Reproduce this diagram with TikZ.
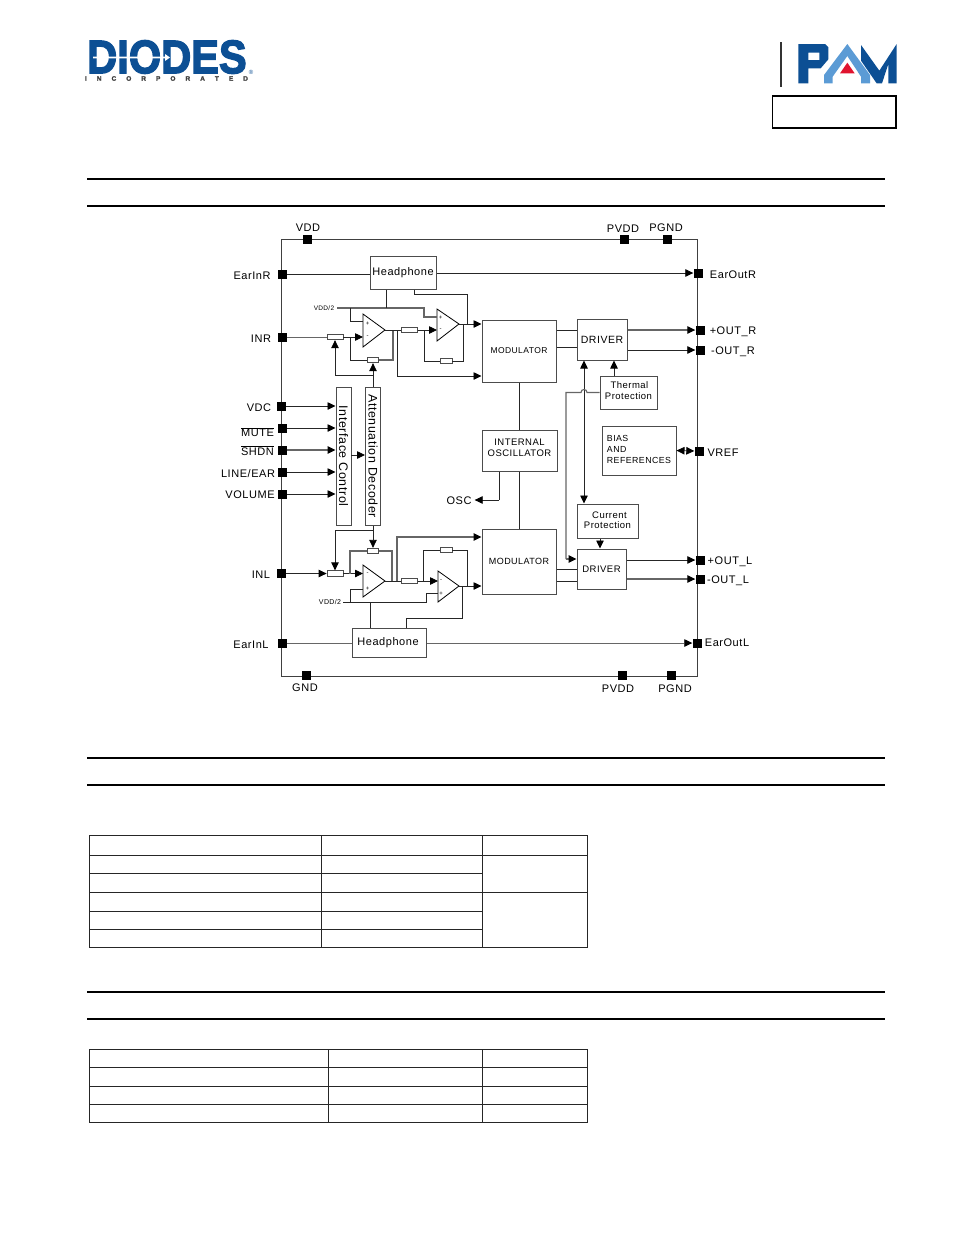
\documentclass[tikz,border=0pt]{standalone}
\usepackage{graphicx}
\usepackage{fontspec}
\setmainfont[LetterSpace=5]{Liberation Sans}
\newfontfamily\logofont[FakeBold=3]{Liberation Sans Bold}
\newfontfamily\logosmall[FakeBold=1.5]{Liberation Sans Bold}
\usetikzlibrary{arrows.meta}
\definecolor{diodesblue}{HTML}{0C4F94}
\definecolor{pamblue}{HTML}{5B9BD5}
\definecolor{pamred}{HTML}{E0142F}
\newcommand{\fs}[1]{\fontsize{#1}{#1}\selectfont}
\tikzset{
  x=1pt,y=-1pt,
  >={Triangle[length=8pt,width=7.5pt,color=black]},
  wire/.style={draw=black!85,line width=.8pt},
  wireg/.style={draw=black!60,line width=1.1pt},
  wirethin/.style={draw=black!60,line width=.7pt},
  arr/.style={wire,->},
  arrg/.style={wireg,->},
  arrthin/.style={wirethin,->},
  dblarr/.style={wire,<->},
  frame/.style={draw=black!75,line width=1pt},
  blk/.style={draw=black!70,line width=1pt,fill=white,inner sep=0pt,align=center},
  res/.style={draw=black!70,line width=.8pt,fill=white,inner sep=0pt,minimum height=5.5pt},
  pinsq/.style={fill=black,inner sep=0pt,minimum size=9pt},
  lbl/.style={inner sep=0pt,yshift=-.7pt,font=\fs{11}},
  sgn/.style={inner sep=0pt,font=\fs{6}},
  hdr/.style={draw=black,line width=1.2pt},
  tab/.style={draw=black!85,line width=.7pt},
  amp/.style={draw=black,line width=.8pt,fill=white}
}
\begin{document}
\begin{tikzpicture}
\useasboundingbox (0,0) rectangle (954,1235);
% logos
\node[inner sep=0pt,text=diodesblue] (logoD) at (167,57) {\scalebox{.885}[1]{\logofont\fontsize{47}{47}\selectfont DIODES}};
\fill[white] (93,56.6) -- (165,56.6) -- (165,54) -- (170,57.5) -- (165,61) -- (165,58.4) -- (93,58.4) -- cycle;
\node[inner sep=0pt,text=black!75] (logoI) at (166.5,78.5) {\makebox[163pt][s]{\logosmall\fontsize{6.5}{6.5}\selectfont I\hfill N\hfill C\hfill O\hfill R\hfill P\hfill O\hfill R\hfill A\hfill T\hfill E\hfill D}};
\node[inner sep=0pt,text=diodesblue] (logoR) at (251,72) {\fontsize{6}{6}\selectfont\textregistered};
\begin{scope}[shift={(760,30)},x=1/3*1pt,y=-1/3*1pt]
\fill[diodesblue,even odd rule] (115,42) -- (195,42) -- (205,52) -- (205,88) -- (182,115) -- (145,115) -- (145,160) -- (115,160) -- cycle
  (145,68) -- (178,68) -- (178,90) -- (145,90) -- cycle;
\fill[diodesblue] (303,45) -- (358,122) -- (410,42) -- (410,160) -- (385,160) -- (385,102) -- (366,160) -- (350,160) -- (303,92) -- cycle;
\fill[pamblue] (262,42) -- (330,135) -- (330,160) -- (303,160) -- (303,140) -- (262,78) -- (218,140) -- (218,160) -- (192,160) -- (192,135) -- cycle;
\fill[pamred] (240,130) -- (262,98) -- (284,130) -- cycle;
\end{scope}
\draw[line width=1.2pt,draw=black!80] (781,42) -- (781,87);
\draw[line width=1.2pt] (772.5,96) rectangle (896,128);
% section rules
\foreach \y in {179,206,758,785,992} \draw[hdr] (87,\y) -- (885,\y);
\draw[hdr,line width=2pt] (87,1019) -- (885,1019);
% block diagram
\draw[frame] (281,239) rectangle (697,676);
\foreach \nm/\x/\y in {pVDD/307/239,pPVDDt/624/239,pPGNDt/667/239,pEarInR/282/274,pINR/282/337,pVDC/281/406,pMUTE/282/428,pSHDN/282/450,pLINE/282/472,pVOL/282/494,pINL/281/573.5,pEarInL/282/643,pGND/306/675,pPVDDb/622/675,pPGNDb/671/675,pEarOutR/698/273,pOutRp/700/330,pOutRn/700/350,pVREF/699/451,pOutLp/700/560,pOutLn/700/579,pEarOutL/697/643}
  \node[pinsq] (\nm) at (\x,\y) {};
\node[lbl] (lVDD) at (308,227) {VDD};
\node[lbl] (lPVDDt) at (623,228) {PVDD};
\node[lbl] (lPGNDt) at (666,227) {PGND};
\node[lbl] (lEarInR) at (252,275) {EarInR};
\node[lbl] (lINR) at (261,338) {INR};
\node[lbl] (lVDC) at (259,407) {VDC};
\node[lbl] (lMUTE) at (257.5,431.5) {$\overline{\mbox{MUTE}}$};
\node[lbl] (lSHDN) at (257.5,450) {$\overline{\mbox{SHDN}}$};
\node[lbl] (lLINE) at (248,473) {LINE/EAR};
\node[lbl] (lVOL) at (250,494) {VOLUME};
\node[lbl] (lINL) at (261,574) {INL};
\node[lbl] (lEarInL) at (251,644) {EarInL};
\node[lbl] (lGND) at (305,687) {GND};
\node[lbl] (lPVDDb) at (618,688) {PVDD};
\node[lbl] (lPGNDb) at (675,688) {PGND};
\node[lbl] (lEarOutR) at (733,274) {EarOutR};
\node[lbl] (lOutRp) at (733,331) {+OUT\_R};
\node[lbl] (lOutRn) at (733,351) {-OUT\_R};
\node[lbl] (lVREF) at (723,452) {VREF};
\node[lbl] (lOutLp) at (730,561) {+OUT\_L};
\node[lbl] (lOutLn) at (728,580) {-OUT\_L};
\node[lbl] (lEarOutL) at (727,642) {EarOutL};
\node[lbl] (lOSC) at (459,500) {OSC};
\node[inner sep=0pt,font=\fs{6.5}] (lVDDt) at (324,308) {VDD/2};
\node[inner sep=0pt,font=\fs{7}] (lVDDb) at (330,602) {VDD/2};
% blocks
\node[blk,minimum width=66pt,minimum height=33pt,font=\fs{11}] (hpR) at (403,272.5) {\raisebox{-1pt}{Headphone}};
\node[blk,minimum width=74pt,minimum height=29pt,font=\fs{11}] (hpL) at (389,642.5) {\raisebox{-1pt}{Headphone\hspace{2pt}}};
\node[blk,minimum width=74pt,minimum height=62pt,font=\fs{8.5}] (modT) at (519,351) {\raisebox{-1.5pt}{MODULATOR}};
\node[blk,minimum width=74pt,minimum height=65pt,font=\fs{9}] (modB) at (519,561.5) {\raisebox{-.7pt}{MODULATOR}};
\node[blk,minimum width=50pt,minimum height=41pt,font=\fs{10.5}] (drvT) at (602,339.5) {DRIVER};
\node[blk,minimum width=49pt,minimum height=40pt,font=\fs{9.5}] (drvB) at (601.5,569) {\raisebox{-1pt}{DRIVER}};
\node[blk,minimum width=57pt,minimum height=33pt,font=\fs{9.5}] (therm) at (628.5,392.5) {\hspace{2pt}Thermal\\[1pt]Protection\\[-6pt]\mbox{}};
\node[blk,minimum width=75pt,minimum height=41pt,font=\fs{9.5}] (osc) at (519.5,450.5) {INTERNAL\\[1.5pt]OSCILLATOR\hspace{3pt}\\[-3pt]\mbox{}};
\node[blk,minimum width=74pt,minimum height=49pt,font=\fs{8.8},align=left] (bias) at (639,450.5) {\mbox{}\\[-4.8pt]BIAS\\[2.5pt]AND\\[2.5pt]REFERENCES};
\node[blk,minimum width=61pt,minimum height=34pt,font=\fs{9.5}] (curr) at (607.5,521) {\hspace{4pt}Current\\[.5pt]Protection\\[-7pt]\mbox{}};
\node[blk,rotate=-90,minimum width=138pt,minimum height=15pt,font=\fs{12.4}] (ifc) at (343.5,456) {Interface Control};
\node[blk,rotate=-90,minimum width=138pt,minimum height=15pt,font=\fs{12.4}] (dec) at (373,456) {Attenuation Decoder};
% junctions
\coordinate (inA1) at (363,321); \coordinate (inA2) at (363,337); \coordinate (outA) at (385,330);
\coordinate (inB1) at (437,317); \coordinate (inB2) at (437,330); \coordinate (outB) at (459,324);
\coordinate (inC1) at (363,573); \coordinate (inC2) at (363,589); \coordinate (outC) at (385,581);
\coordinate (inD1) at (438,581); \coordinate (inD2) at (438,593); \coordinate (outD) at (459,586);
\coordinate (vddT) at (337,308); \coordinate (vddB) at (343,602);
\coordinate (hopR) at (587,392.5); \coordinate (hopL) at (581,392.5);
% amplifiers
\draw[amp] (363,314) -- (363,347) -- (outA) -- cycle;
\draw[amp] (437,309) -- (437,341) -- (outB) -- cycle;
\draw[amp] (363,565) -- (363,597) -- (outC) -- cycle;
\draw[amp] (438,571) -- (438,602) -- (outD) -- cycle;
\node[sgn] (sA1) at (367.5,324) {+}; \node[sgn] (sA2) at (367.5,337) {-};
\node[sgn] (sB1) at (440.5,318) {+}; \node[sgn] (sB2) at (440.5,330) {-};
\node[sgn] (sC1) at (367.5,574) {-}; \node[sgn] (sC2) at (367.5,589) {+};
\node[sgn] (sD1) at (441,581) {-}; \node[sgn] (sD2) at (441,594) {+};
\node[res,minimum width=16pt] (rIn) at (335,337) {};
\node[res,minimum width=11pt] (rFb) at (373,360) {};
\node[res,minimum width=16pt] (rMid) at (409.5,330) {};
\node[res,minimum width=12pt] (rFb2) at (446,361) {};
\node[res,minimum width=16pt] (rInL) at (335,573.5) {};
\node[res,minimum width=11pt] (rFbL) at (373,551) {};
\node[res,minimum width=16pt] (rMidL) at (409.5,581) {};
\node[res,minimum width=12pt] (rFb2L) at (446,550) {};
% top channel
\draw[wire] (pEarInR.east) -- (hpR.west |- pEarInR.east);
\draw[arr] (hpR.east |- pEarOutR.west) -- (pEarOutR.west);
\draw[wirethin] (pINR.east) -- (rIn.west);
\draw[arr] (rIn.east) -- (inA2);
\coordinate (jA) at (350,337); \coordinate (jB) at (393,330);
\draw[wire] (jA) |- (rFb.west);
\draw[wireg] (rFb.east) -| (jB);
\draw[wire] (outA) -- (rMid.west);
\draw[arr] (rMid.east) -- (inB2);
\coordinate (jC) at (424,330); \coordinate (jD) at (463,324); \coordinate (jE) at (397,330);
\draw[wire] (jC) |- (rFb2.west);
\draw[wire] (rFb2.east) -| (jD);
\draw[arr] (outB) -- (modT.west |- outB);
\coordinate (modTb) at (modT.west |- 0,376);
\draw[arr] (jE) |- (modTb);
\coordinate (vB) at (424,308); \coordinate (jF) at (350,308); \coordinate (jG) at (386,308);
\draw[wireg] (vddT) -- (vB) |- (inB1);
\draw[wire] (jF) |- (inA1);
\draw[wire] (jG |- hpR.south) -- (jG);
\coordinate (hpO) at (414,294); \coordinate (jD2) at (467,324);
\draw[wire] (hpO |- hpR.south) -- (hpO) -| (jD2);
\draw[arr] (dec.west) -- (rFb.south);
\coordinate (jH) at (373,375);
\draw[arr] (jH) -| (rIn.south);
% bottom channel
\draw[arr] (pINL.east) -- (rInL.west);
\draw[arr] (rInL.east) -- (inC1 |- rInL.east);
\coordinate (jI) at (350,573.5); \coordinate (jJ) at (392,581);
\draw[wireg] (jI) |- (rFbL.west);
\draw[wireg] (rFbL.east) -| (jJ);
\draw[wire] (outC) -- (rMidL.west);
\draw[arr] (rMidL.east) -- (inD1);
\coordinate (jK) at (423,581); \coordinate (jL) at (467,586); \coordinate (jM) at (397,581);
\draw[wire] (jK) |- (rFb2L.west);
\draw[wire] (rFb2L.east) -| (jL);
\draw[arr] (outD) -- (modB.west |- outD);
\coordinate (modBt) at (modB.west |- 0,537);
\draw[arrg] (jM) |- (modBt);
\coordinate (vD) at (426,602); \coordinate (jN) at (350,602); \coordinate (jO) at (370,602);
\draw[wire] (vddB) -- (vD) |- (inD2);
\draw[wire] (jN) |- (inC2);
\draw[wire] (jO) -- (jO |- hpL.north);
\coordinate (hpP) at (406,618); \coordinate (jP) at (462,586);
\draw[wire] (hpP |- hpL.north) -- (hpP) -| (jP);
\draw[arr] (dec.east) -- (rFbL.north);
\coordinate (jQ) at (373,530);
\draw[arr] (jQ) -| (rInL.north);
\draw[wirethin] (pEarInL.east) -- (hpL.west |- pEarInL.east);
\draw[arrthin] (hpL.east |- pEarOutL.west) -- (pEarOutL.west);
% control inputs
\foreach \nm in {pVDC,pMUTE,pLINE,pVOL} \draw[arr] (\nm.east) -- (ifc.south |- \nm.east);
\draw[arrg] (pSHDN.east) -- (ifc.south |- pSHDN.east);
\coordinate (jR) at (351,455);
\draw[arr] (jR) -- (jR -| dec.south);
% right side
\coordinate (mT1) at (modT.east |- 0,330); \coordinate (mT2) at (modT.east |- 0,347);
\coordinate (mB1) at (modB.east |- 0,569); \coordinate (mB2) at (modB.east |- 0,581);
\draw[wire] (mT1) -- (mT1 -| drvT.west);
\draw[wire] (mT2) -- (mT2 -| drvT.west);
\draw[wire] (mB1) -- (mB1 -| drvB.west);
\draw[wire] (mB2) -- (mB2 -| drvB.west);
\draw[arrg] (drvT.east |- pOutRp.west) -- (pOutRp.west);
\draw[arr] (drvT.east |- pOutRn.west) -- (pOutRn.west);
\draw[arr] (drvB.east |- pOutLp.west) -- (pOutLp.west);
\draw[arrg] (drvB.east |- pOutLn.west) -- (pOutLn.west);
\coordinate (vX) at (584,400);
\draw[dblarr] (vX |- drvT.south) -- (vX |- curr.north);
\draw[arr] (therm.north -| 614,0) -- (drvT.south -| 614,0);
\coordinate (jS) at (566,392.5); \coordinate (jT) at (566,559);
\draw[wireg] (therm.west) -- (hopR) .. controls (587,388.5) and (581,388.5) .. (hopL) -- (jS) -- (jT);
\draw[arrg] (jT) -- (drvB.west |- jT);
\coordinate (jU) at (600,538);
\draw[arr] (curr.south -| jU) -- (drvB.north -| jU);
\draw[dblarr] (bias.east) -- (pVREF.west);
\draw[wire] (modT.south) -- (osc.north -| modT.south);
\draw[wire] (osc.south -| modB.north) -- (modB.north);
\coordinate (jV) at (499,500);
\draw[wire] (osc.south -| jV) -- (jV);
\draw[arr,shorten >=3pt] (jV) -- (lOSC.east |- jV);
% tables
\draw[tab] (89,835) rectangle (587,947);
\foreach \y in {855,892} \draw[tab] (89,\y) -- (587,\y);
\foreach \y in {873,911,929} \draw[tab] (89,\y) -- (482,\y);
\foreach \x in {321,482} \draw[tab] (\x,835) -- (\x,947);
\draw[tab] (89,1049) rectangle (587,1122);
\foreach \y in {1067,1086,1104} \draw[tab] (89,\y) -- (587,\y);
\foreach \x in {328,482} \draw[tab] (\x,1049) -- (\x,1122);
\end{tikzpicture}
\end{document}
